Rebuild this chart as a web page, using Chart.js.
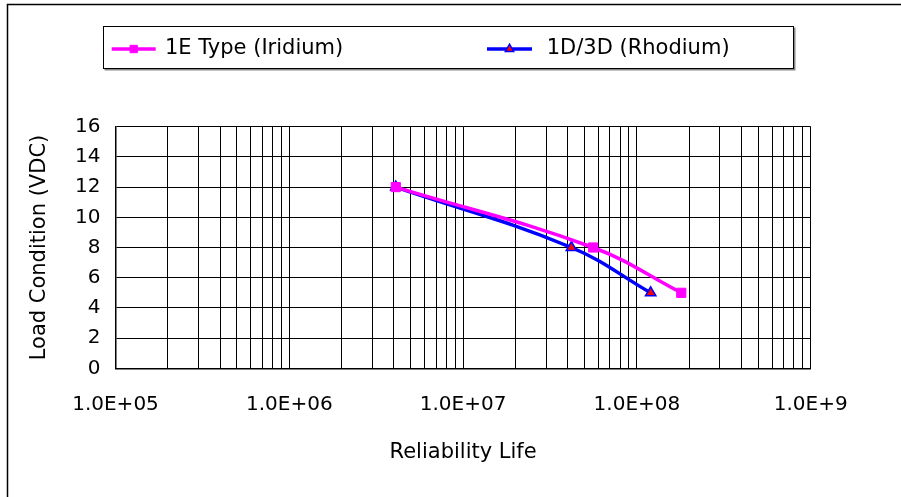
<!DOCTYPE html>
<html>
<head>
<meta charset="utf-8">
<script src="https://cdn.jsdelivr.net/npm/chart.js@4/dist/chart.umd.min.js"></script>
<style>
  html, body { margin: 0; padding: 0; background: #fff; }
  #wrap { width: 901px; height: 497px; position: relative; }
</style>
</head>
<body>
<div id="wrap"><canvas id="c" width="901" height="497"></canvas></div>
<script>
// ---- data ----
const seriesNames = ['1E Type (Iridium)', '1D/3D (Rhodium)'];
const lifeIridium = [4.1e6, 5.6e7, 1.8e8];
const loadIridium = [12, 8, 5];
const lifeRhodium = [4.1e6, 4.2e7, 1.2e8];
const loadRhodium = [12, 8, 5];
const xDecades = [1e5, 1e6, 1e7, 1e8, 1e9];
const xTickLabels = ['1.0E+05', '1.0E+06', '1.0E+07', '1.0E+08', '1.0E+9'];
const yTicks = [0, 2, 4, 6, 8, 10, 12, 14, 16];
const xTitle = 'Reliability Life';
const yTitle = 'Load Condition (VDC)';

const FONT = 'Verdana, "DejaVu Sans", sans-serif';

const toPts = (xs, ys) => xs.map((x, i) => ({ x: x, y: ys[i] }));

const PLOT = { left: 115.5, right: 810.7, top: 126.7, bottom: 368.3 };

const frameLegend = {
  id: 'frameLegend',
  afterDraw(chart) {
    const ctx = chart.ctx;
    ctx.save();
    // outer frame (left/top visible)
    ctx.strokeStyle = '#000';
    ctx.lineWidth = 1.5;
    ctx.beginPath();
    ctx.moveTo(7.5, 500);
    ctx.lineTo(7.5, 4.5);
    ctx.lineTo(905, 4.5);
    ctx.stroke();
    // legend box
    const bx = 103.5, by = 26.5, bw = 690, bh = 42;
    ctx.strokeStyle = '#888';
    ctx.lineWidth = 2;
    ctx.beginPath();
    ctx.moveTo(bx + 1, by + bh + 1);
    ctx.lineTo(bx + bw + 1, by + bh + 1);
    ctx.lineTo(bx + bw + 1, by + 1);
    ctx.stroke();
    ctx.strokeStyle = '#000';
    ctx.lineWidth = 1;
    ctx.strokeRect(bx, by, bw, bh);
    const items = [
      { x0: 111.7, x1: 155.7, tx: 165 },
      { x0: 487, x1: 532, tx: 546.7 }
    ];
    const ly = 49;
    chart.data.datasets.forEach((ds, i) => {
      const it = items[i];
      ctx.save();
      ctx.strokeStyle = ds.borderColor;
      ctx.lineWidth = ds.borderWidth;
      ctx.beginPath();
      ctx.moveTo(it.x0, ly);
      ctx.lineTo(it.x1, ly);
      ctx.stroke();
      ctx.fillStyle = ds.pointBackgroundColor;
      ctx.strokeStyle = ds.pointBorderColor;
      ctx.lineWidth = ds.pointBorderWidth;
      Chart.helpers.drawPoint(ctx, {
        pointStyle: ds.pointStyle,
        radius: ds.pointRadius * 0.8,
        borderWidth: ds.pointBorderWidth,
        rotation: 0
      }, (it.x0 + it.x1) / 2, ly);
      ctx.fillStyle = '#000';
      ctx.font = '21px ' + FONT;
      ctx.textBaseline = 'middle';
      ctx.textAlign = 'left';
      ctx.fillText(ds.label, it.tx, ly);
      ctx.restore();
    });
    ctx.restore();
  }
};

const allXTicks = [];
for (let d = 0; d < xDecades.length; d++) {
  if (d === xDecades.length - 1) { allXTicks.push(xDecades[d]); break; }
  for (let m = 1; m <= 9; m++) allXTicks.push(m * xDecades[d]);
}

new Chart(document.getElementById('c'), {
  type: 'line',
  data: {
    datasets: [
      {
        label: seriesNames[0],
        data: toPts(lifeIridium, loadIridium),
        borderColor: '#FF00FF',
        backgroundColor: '#FF00FF',
        borderWidth: 3.5,
        pointStyle: 'rect',
        pointRadius: 6.5,
        pointBackgroundColor: '#FF00FF',
        pointBorderColor: '#FF00FF',
        pointBorderWidth: 1,
        tension: 0.4,
        fill: false
      },
      {
        label: seriesNames[1],
        data: toPts(lifeRhodium, loadRhodium),
        borderColor: '#0000FF',
        backgroundColor: '#FF0000',
        borderWidth: 3.5,
        pointStyle: 'triangle',
        pointRadius: 6,
        pointBackgroundColor: '#FF0000',
        pointBorderColor: '#0000FF',
        pointBorderWidth: 1.5,
        tension: 0.4,
        fill: false
      }
    ]
  },
  options: {
    responsive: false,
    animation: false,
    devicePixelRatio: 1,
    layout: { padding: { left: 20, top: PLOT.top, right: 901 - PLOT.right, bottom: 27 } },
    plugins: { legend: { display: false }, tooltip: { enabled: false } },
    scales: {
      x: {
        type: 'logarithmic',
        min: xDecades[0],
        max: xDecades[xDecades.length - 1],
        afterBuildTicks(scale) {
          scale.ticks = allXTicks.map(v => ({ value: v }));
        },
        afterFit(scale) { scale.height = 470 - PLOT.bottom; },
        grid: { color: '#000', lineWidth: 1, drawTicks: false },
        border: { display: true, color: '#000', width: 1.5 },
        ticks: {
          autoSkip: false,
          maxRotation: 0,
          minRotation: 0,
          padding: 24.7,
          color: '#000',
          font: { family: FONT, size: 20 },
          callback(value) {
            const i = xDecades.findIndex(d => Math.abs(d - value) / d < 1e-6);
            return i >= 0 ? xTickLabels[i] : '';
          }
        },
        title: {
          display: true,
          text: xTitle,
          color: '#000',
          font: { family: FONT, size: 21 },
          padding: { top: 0, bottom: 4.4 }
        }
      },
      y: {
        type: 'linear',
        min: yTicks[0],
        max: yTicks[yTicks.length - 1],
        afterBuildTicks(scale) {
          scale.ticks = yTicks.map(v => ({ value: v }));
        },
        afterFit(scale) { scale.width = PLOT.left - 20; },
        grid: { color: '#000', lineWidth: 1, drawTicks: false },
        border: { display: true, color: '#000', width: 1.5 },
        ticks: {
          padding: 15,
          color: '#000',
          font: { family: FONT, size: 20 }
        },
        title: {
          display: true,
          text: yTitle,
          color: '#000',
          font: { family: FONT, size: 21 },
          padding: { top: 7.4, bottom: 0 }
        }
      }
    }
  },
  plugins: [frameLegend]
});
</script>
</body>
</html>
